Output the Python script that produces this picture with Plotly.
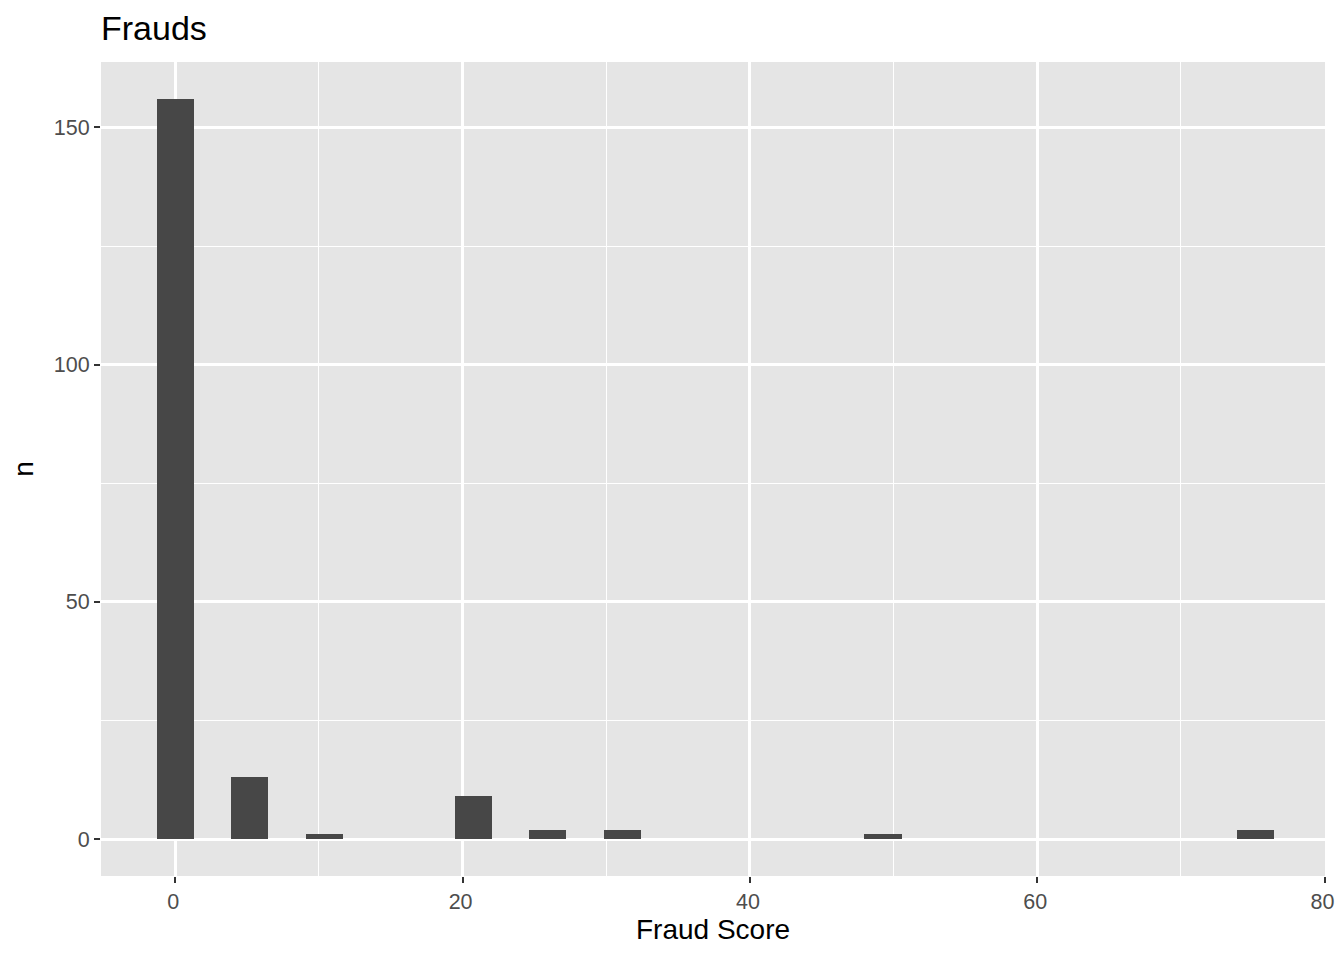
import plotly.graph_objects as go

# Data (histogram bins with non-zero counts)
fraud_score = [0.0, 5.19, 10.37, 20.74, 25.93, 31.12, 49.27, 75.2]
counts = [156, 13, 1, 9, 2, 2, 1, 2]
bin_width = 2.593

x_ticks = [0, 20, 40, 60, 80]
y_ticks = [0, 50, 100, 150]

W, H = 1328, 944  # page body has an 8px margin on every side

fig = go.Figure()
fig.add_trace(go.Bar(
    x=fraud_score, y=counts, width=bin_width,
    marker=dict(color="#474747", line=dict(width=0)),
    showlegend=False,
))

fig.update_layout(
    width=W, height=H,
    margin=dict(l=93, r=11, t=54, b=76, autoexpand=False),
    paper_bgcolor="white",
    plot_bgcolor="#E5E5E5",
    font=dict(family="Liberation Sans, Arial, sans-serif"),
    title=dict(text="Frauds", x=93/W, xanchor="left", y=1-20/H, yanchor="middle",
               font=dict(size=34, color="black")),
    bargap=0,
)
fig.update_xaxes(
    range=[-5.17, 80.03], automargin=False, ticklabeloverflow="allow",
    ticklabelshift=-2,
    tickmode="array", tickvals=x_ticks,
    ticks="outside", ticklen=6, tickwidth=2.3, tickcolor="#333333",
    tickfont=dict(size=21.5, color="#4D4D4D"),
    showgrid=True, gridcolor="white", gridwidth=2.8,
    minor=dict(tickmode="array", tickvals=[-10, 10, 30, 50, 70], showgrid=True,
               gridcolor="white", gridwidth=1.4, ticks=""),
    zeroline=False, showline=False,
    title=dict(text="Fraud Score", font=dict(size=28, color="black"), standoff=6),
)
fig.update_yaxes(
    range=[-7.8, 163.8], automargin=False,
    tickmode="array", tickvals=y_ticks,
    ticks="outside", ticklen=6, tickwidth=2.3, tickcolor="#333333",
    tickfont=dict(size=21.5, color="#4D4D4D"),
    showgrid=True, gridcolor="white", gridwidth=2.8,
    minor=dict(tickmode="array", tickvals=[25, 75, 125], showgrid=True,
               gridcolor="white", gridwidth=1.4, ticks=""),
    zeroline=False, showline=False,
    title=dict(text="n", font=dict(size=28, color="black"), standoff=30),
)

fig.write_html("out.html")
